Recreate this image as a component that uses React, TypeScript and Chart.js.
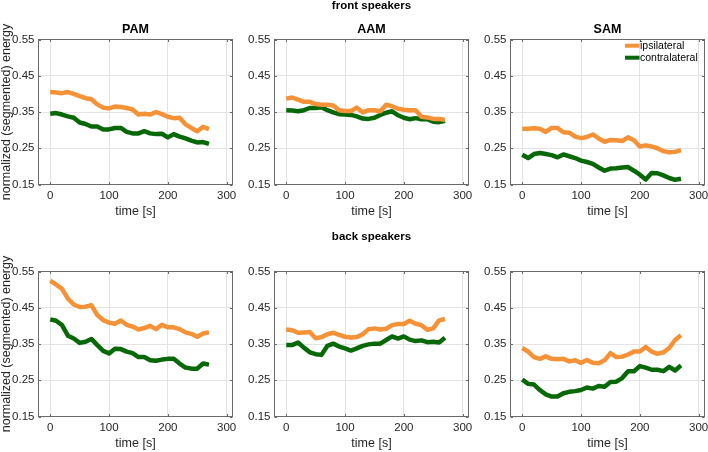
import React, { useEffect, useRef } from 'react';
import { Chart, registerables } from 'chart.js';

Chart.register(...registerables);

// ---------------- data ----------------
const times = [0, 10, 20, 30, 40, 50, 60, 70, 80, 90, 100, 110, 120, 130, 140, 150, 160, 170, 180, 190, 200, 210, 220, 230, 240, 250, 260, 270];

const frontPamIpsi = [0.405, 0.404, 0.402, 0.405, 0.400, 0.394, 0.388, 0.385, 0.371, 0.362, 0.360, 0.365, 0.364, 0.361, 0.357, 0.343, 0.345, 0.343, 0.350, 0.344, 0.337, 0.333, 0.334, 0.316, 0.306, 0.297, 0.309, 0.303];
const frontPamContra = [0.345, 0.347, 0.343, 0.338, 0.334, 0.321, 0.317, 0.310, 0.310, 0.302, 0.302, 0.306, 0.306, 0.295, 0.291, 0.291, 0.297, 0.291, 0.289, 0.290, 0.280, 0.289, 0.282, 0.277, 0.271, 0.266, 0.267, 0.262];
const frontAamIpsi = [0.387, 0.390, 0.384, 0.378, 0.378, 0.372, 0.370, 0.370, 0.368, 0.355, 0.353, 0.353, 0.362, 0.349, 0.355, 0.355, 0.352, 0.370, 0.366, 0.359, 0.356, 0.355, 0.355, 0.337, 0.335, 0.331, 0.331, 0.328];
const frontAamContra = [0.355, 0.354, 0.352, 0.355, 0.361, 0.361, 0.363, 0.355, 0.349, 0.344, 0.343, 0.342, 0.338, 0.332, 0.331, 0.334, 0.342, 0.348, 0.352, 0.341, 0.334, 0.330, 0.333, 0.330, 0.330, 0.323, 0.322, 0.326];
const frontSamIpsi = [0.304, 0.304, 0.305, 0.304, 0.295, 0.306, 0.306, 0.294, 0.293, 0.282, 0.278, 0.281, 0.288, 0.277, 0.268, 0.273, 0.272, 0.270, 0.280, 0.272, 0.255, 0.258, 0.255, 0.250, 0.242, 0.239, 0.240, 0.245];
const frontSamContra = [0.232, 0.223, 0.234, 0.237, 0.234, 0.231, 0.225, 0.233, 0.228, 0.223, 0.216, 0.212, 0.207, 0.197, 0.188, 0.194, 0.195, 0.197, 0.198, 0.188, 0.177, 0.164, 0.182, 0.181, 0.175, 0.168, 0.163, 0.166];
const backPamIpsi = [0.525, 0.514, 0.502, 0.475, 0.459, 0.452, 0.453, 0.457, 0.430, 0.416, 0.409, 0.406, 0.415, 0.403, 0.398, 0.390, 0.394, 0.400, 0.391, 0.403, 0.396, 0.396, 0.391, 0.382, 0.378, 0.370, 0.379, 0.382];
const backPamContra = [0.418, 0.414, 0.402, 0.373, 0.365, 0.353, 0.356, 0.364, 0.347, 0.331, 0.324, 0.337, 0.336, 0.329, 0.325, 0.314, 0.314, 0.305, 0.304, 0.307, 0.309, 0.309, 0.296, 0.285, 0.282, 0.282, 0.296, 0.293];
const backAamIpsi = [0.390, 0.388, 0.381, 0.382, 0.383, 0.366, 0.369, 0.377, 0.381, 0.375, 0.370, 0.368, 0.369, 0.377, 0.391, 0.393, 0.390, 0.392, 0.402, 0.405, 0.405, 0.414, 0.406, 0.402, 0.389, 0.393, 0.415, 0.419];
const backAamContra = [0.347, 0.347, 0.354, 0.340, 0.327, 0.322, 0.320, 0.345, 0.351, 0.343, 0.338, 0.332, 0.338, 0.345, 0.349, 0.351, 0.351, 0.361, 0.371, 0.365, 0.371, 0.362, 0.358, 0.360, 0.355, 0.356, 0.354, 0.367];
const backSamIpsi = [0.339, 0.329, 0.314, 0.309, 0.316, 0.309, 0.308, 0.309, 0.302, 0.305, 0.298, 0.306, 0.298, 0.297, 0.305, 0.325, 0.314, 0.315, 0.321, 0.329, 0.329, 0.342, 0.329, 0.323, 0.327, 0.339, 0.361, 0.374];
const backSamContra = [0.252, 0.240, 0.238, 0.223, 0.211, 0.205, 0.205, 0.214, 0.218, 0.220, 0.223, 0.230, 0.227, 0.234, 0.232, 0.245, 0.246, 0.256, 0.275, 0.275, 0.289, 0.285, 0.279, 0.279, 0.275, 0.287, 0.277, 0.291];

const xTicks = [0, 100, 200, 300];
const yTicks = [0.15, 0.25, 0.35, 0.45, 0.55];
const xRange = [-20, 310];
const yRange = [0.15, 0.55];
const panelNames = ['PAM', 'AAM', 'SAM'];
const rowTitles = ['front speakers', 'back speakers'];
const seriesLabels = ['ipsilateral', 'contralateral'];
const xAxisLabel = 'time [s]';
const yAxisLabel = 'normalized (segmented) energy';

// ---------------- style / layout ----------------
const FONT = '"Liberation Sans", Arial, Helvetica, sans-serif';
const ORANGE = 'rgb(245,146,56)';
const GREEN = 'rgb(8,104,8)';
const TEXT = '#262626';
const FRAME = '#6a6a6a';
const GRID = '#e3e3e3';

const COL_X = [0, 236, 472];
const CANVAS_W = 236;
const Y_AXIS_W = 38.5;
const PAD_RIGHT = 3.5;
const ROWS = [
  { top: 0, h: 226, areaTop: 39.5, areaBottom: 184.5, superCenter: 5.75, titleCenter: 29.7 },
  { top: 226, h: 226, areaTop: 45.5, areaBottom: 190.5, superCenter: 10.7, titleCenter: 0 },
];
const SUPER_SIZE = 11.5;
const TITLE_SIZE = 12.5;
const TICK_SIZE = 11.5;
const LABEL_SIZE = 12.5;
const XTITLE_FROM_AXIS = 27.3;

const framePlugin = {
  id: 'frame',
  beforeDatasetsDraw(chart: any) {
    const { ctx, chartArea: a, scales } = chart;
    ctx.save();
    ctx.strokeStyle = FRAME;
    ctx.lineWidth = 1;
    ctx.strokeRect(a.left, a.top, a.right - a.left, a.bottom - a.top);
    const tl = 2.5;
    ctx.beginPath();
    scales.x.ticks.forEach((t: any) => {
      const px = Math.round(scales.x.getPixelForValue(t.value)) + 0.5;
      ctx.moveTo(px, a.bottom);
      ctx.lineTo(px, a.bottom - tl);
      ctx.moveTo(px, a.top);
      ctx.lineTo(px, a.top + tl);
    });
    scales.y.ticks.forEach((t: any) => {
      const py = Math.round(scales.y.getPixelForValue(t.value)) + 0.5;
      ctx.moveTo(a.left, py);
      ctx.lineTo(a.left + tl, py);
      ctx.moveTo(a.right, py);
      ctx.lineTo(a.right - tl, py);
    });
    ctx.stroke();
    ctx.restore();
  },
};

const insideLegendPlugin = {
  id: 'insideLegend',
  afterDatasetsDraw(chart: any, _args: any, opts: any) {
    if (!opts || !opts.show) return;
    const { ctx, chartArea: a } = chart;
    ctx.save();
    chart.data.datasets.forEach((ds: any, i: number) => {
      const y = a.top + 6.2 + i * 12;
      const x0 = a.right - 79.5;
      ctx.strokeStyle = ds.borderColor;
      ctx.lineWidth = 4;
      ctx.lineCap = 'butt';
      ctx.beginPath();
      ctx.moveTo(x0, y);
      ctx.lineTo(x0 + 14.5, y);
      ctx.stroke();
      ctx.fillStyle = '#000';
      ctx.font = `10.5px ${FONT}`;
      ctx.textAlign = 'left';
      ctx.textBaseline = 'middle';
      ctx.fillText(ds.label, x0 + 15, y);
    });
    ctx.restore();
  },
};

type PanelSpec = {
  row: number;
  col: number;
  ipsi: number[];
  contra: number[];
};

const panels: PanelSpec[] = [
  { row: 0, col: 0, ipsi: frontPamIpsi, contra: frontPamContra },
  { row: 0, col: 1, ipsi: frontAamIpsi, contra: frontAamContra },
  { row: 0, col: 2, ipsi: frontSamIpsi, contra: frontSamContra },
  { row: 1, col: 0, ipsi: backPamIpsi, contra: backPamContra },
  { row: 1, col: 1, ipsi: backAamIpsi, contra: backAamContra },
  { row: 1, col: 2, ipsi: backSamIpsi, contra: backSamContra },
];

function buildConfig(p: PanelSpec): any {
  const g = ROWS[p.row];
  const panelTitle = p.row === 0 ? panelNames[p.col] : '';
  const superTitle = p.col === 1 ? rowTitles[p.row] : '';
  const titleFont = { family: FONT, size: TITLE_SIZE, weight: 'bold', lineHeight: 1 };
  const superFont = { family: FONT, size: SUPER_SIZE, weight: 'bold', lineHeight: 1 };

  let layoutTop = g.areaTop;
  let title: any = { display: false };
  let subtitle: any = { display: false };
  if (superTitle && panelTitle) {
    layoutTop = Math.max(0, g.superCenter - SUPER_SIZE / 2);
    const pTop = g.titleCenter - TITLE_SIZE / 2;
    title = { display: true, text: superTitle, font: superFont, color: '#000', fullSize: false, padding: { top: 0, bottom: pTop - layoutTop - SUPER_SIZE } };
    subtitle = { display: true, text: panelTitle, font: titleFont, color: '#000', fullSize: false, padding: { top: 0, bottom: g.areaTop - pTop - TITLE_SIZE } };
  } else if (panelTitle) {
    layoutTop = g.titleCenter - TITLE_SIZE / 2;
    title = { display: true, text: panelTitle, font: titleFont, color: '#000', fullSize: false, padding: { top: 0, bottom: g.areaTop - layoutTop - TITLE_SIZE } };
  } else if (superTitle) {
    layoutTop = g.superCenter - SUPER_SIZE / 2;
    title = { display: true, text: superTitle, font: superFont, color: '#000', fullSize: false, padding: { top: 0, bottom: g.areaTop - layoutTop - SUPER_SIZE } };
  }

  const xH = g.h - g.areaBottom;
  const xTitlePadBottom = g.h - (g.areaBottom + XTITLE_FROM_AXIS) - LABEL_SIZE / 2;

  return {
    type: 'line',
    data: {
      datasets: [
        {
          label: seriesLabels[0],
          data: times.map((t, i) => ({ x: t, y: p.ipsi[i] })),
          borderColor: ORANGE,
          backgroundColor: ORANGE,
          borderWidth: 4.5,
          pointRadius: 0,
          tension: 0,
          borderJoinStyle: 'round',
          borderCapStyle: 'butt',
        },
        {
          label: seriesLabels[1],
          data: times.map((t, i) => ({ x: t, y: p.contra[i] })),
          borderColor: GREEN,
          backgroundColor: GREEN,
          borderWidth: 4.5,
          pointRadius: 0,
          tension: 0,
          borderJoinStyle: 'round',
          borderCapStyle: 'butt',
        },
      ],
    },
    options: {
      responsive: false,
      animation: false,
      events: [],
      layout: { padding: { top: layoutTop, left: 0, right: PAD_RIGHT, bottom: 0 } },
      scales: {
        x: {
          type: 'linear',
          min: xRange[0],
          max: xRange[1],
          afterBuildTicks: (s: any) => { s.ticks = xTicks.map((v) => ({ value: v })); },
          afterFit: (s: any) => { s.height = xH; s.paddingLeft = 0; s.paddingRight = 0; },
          grid: { color: GRID, lineWidth: 1, drawTicks: false },
          border: { display: false },
          ticks: {
            autoSkip: false,
            maxRotation: 0,
            padding: 11.4 - (TICK_SIZE * 1.2) / 2,
            color: TEXT,
            font: { family: FONT, size: TICK_SIZE, lineHeight: 1.2 },
            callback: (v: any) => String(v),
          },
          title: {
            display: true,
            text: xAxisLabel,
            color: TEXT,
            font: { family: FONT, size: LABEL_SIZE, lineHeight: 1 },
            padding: { top: 0, bottom: xTitlePadBottom },
          },
        },
        y: {
          type: 'linear',
          min: yRange[0],
          max: yRange[1],
          afterBuildTicks: (s: any) => { s.ticks = yTicks.map((v) => ({ value: v })); },
          afterFit: (s: any) => { s.width = Y_AXIS_W; s.paddingTop = 0; s.paddingBottom = 0; },
          grid: { color: GRID, lineWidth: 1, drawTicks: false },
          border: { display: false },
          ticks: {
            autoSkip: false,
            padding: 4,
            color: TEXT,
            font: { family: FONT, size: TICK_SIZE, lineHeight: 1.2 },
            callback: (v: any) => Number(v).toFixed(2),
          },
          title: {
            display: p.col === 0,
            text: yAxisLabel,
            color: TEXT,
            font: { family: FONT, size: LABEL_SIZE, lineHeight: 1 },
            padding: { top: 0.75, bottom: 0 },
          },
        },
      },
      plugins: {
        legend: { display: false },
        tooltip: { enabled: false },
        title,
        subtitle,
        insideLegend: { show: p.row === 0 && p.col === 2 },
      },
    },
    plugins: [framePlugin, insideLegendPlugin],
  };
}

function Panel({ spec }: { spec: PanelSpec }) {
  const ref = useRef<HTMLCanvasElement | null>(null);
  useEffect(() => {
    if (!ref.current) return;
    const chart = new Chart(ref.current, buildConfig(spec));
    return () => chart.destroy();
  }, [spec]);
  const g = ROWS[spec.row];
  return (
    <canvas
      ref={ref}
      width={CANVAS_W}
      height={g.h}
      style={{ position: 'absolute', left: COL_X[spec.col], top: g.top, width: CANVAS_W, height: g.h }}
    />
  );
}

export default function App() {
  return (
    <div style={{ position: 'absolute', left: 0, top: 0, width: 708, height: 452, background: '#fff', overflow: 'hidden' }}>
      {panels.map((p) => (
        <Panel key={`${p.row}-${p.col}`} spec={p} />
      ))}
    </div>
  );
}
